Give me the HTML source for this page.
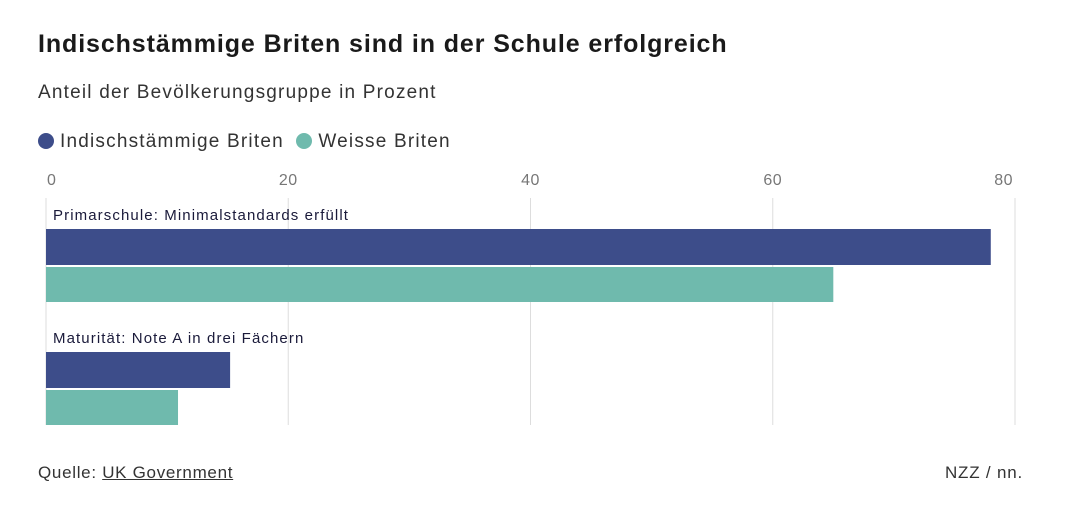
<!DOCTYPE html>
<html><head><meta charset="utf-8"><style>
body{margin:0;width:1080px;height:532px;background:#fff;font-family:"Liberation Sans",sans-serif;color:#222;position:relative;overflow:hidden}
.a{position:absolute;white-space:nowrap}
</style></head><body>
<div class="a" style="left:38px;top:30px;font-size:25px;font-weight:bold;color:#1a1a1a;letter-spacing:0.9px">Indischstämmige Briten sind in der Schule erfolgreich</div>
<div class="a" style="left:38px;top:82px;font-size:19px;color:#333;letter-spacing:1.2px">Anteil der Bevölkerungsgruppe in Prozent</div>
<div class="a" style="left:38px;top:131px;font-size:19px;color:#333;letter-spacing:1.2px">
<span><span style="display:inline-block;width:16px;height:16px;border-radius:50%;background:#3d4d8a;vertical-align:-2px;margin-right:6px"></span>Indischstämmige Briten</span>
<span style="margin-left:6px"><span style="display:inline-block;width:16px;height:16px;border-radius:50%;background:#6fbaad;vertical-align:-2px;margin-right:6px"></span>Weisse Briten</span>
</div>
<svg id="chart" width="1080" height="532" style="position:absolute;left:0;top:0" font-family="Liberation Sans, sans-serif"></svg>
<div class="a" style="left:38px;top:463px;font-size:17px;color:#333;letter-spacing:0.7px">Quelle: <span style="text-decoration:underline">UK Government</span></div>
<div class="a" style="right:57px;top:463px;font-size:17px;color:#333;letter-spacing:0.8px">NZZ / nn.</div>
<script>
const categories=["Primarschule: Minimalstandards erfüllt","Maturität: Note A in drei Fächern"];
const indianValues=[78,15.2];
const whiteValues=[65,10.9];
const ticks=[0,20,40,60,80];
const svg=document.getElementById('chart');
const NS='http://www.w3.org/2000/svg';
const x=v=>46+v*(1015-46)/80;
function mk(t,a){const e=document.createElementNS(NS,t);for(const k in a)e.setAttribute(k,a[k]);svg.appendChild(e);return e;}
ticks.forEach((t,i)=>{
 const g=mk('line',{x1:x(t),x2:x(t),y1:198,y2:425,stroke:'#ddd','stroke-width':1});
 
 
 const anchor=i==0?'start':(i==ticks.length-1?'end':'middle');
 const tx=mk('text',{x:i==0?x(t)+1:(i==ticks.length-1?x(t)-2:x(t)),y:185,'font-size':16,fill:'#777','text-anchor':anchor,'letter-spacing':0.5});
 tx.textContent=t;
 
 
});
categories.forEach((c,i)=>{
 const y0=229+i*123;
 const l=mk('text',{x:53,y:y0-9,'font-size':15,fill:'#1a1a3a','letter-spacing':1.1});
 l.textContent=c;
 
 
 const b1=mk('rect',{x:x(0),y:y0,width:x(indianValues[i])-x(0),height:36,fill:'#3d4d8a'});
 
 
 const b2=mk('rect',{x:x(0),y:y0+38,width:x(whiteValues[i])-x(0),height:35,fill:'#6fbaad'});
 
 
});
</script>
</body></html>
